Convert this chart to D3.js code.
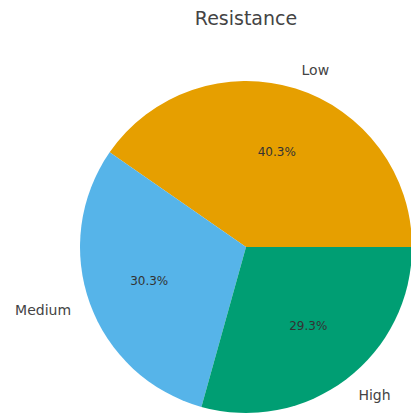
<!DOCTYPE html>
<html>
<head>
<meta charset="utf-8">
<script src="https://cdn.jsdelivr.net/npm/d3@7"></script>
<style>
  html, body { margin: 0; padding: 0; background: #fff; }
  svg { display: block; }
</style>
</head>
<body>
<svg id="chart" width="411" height="415"></svg>
<script>
// Resistance level shares
const categories = ["Low", "Medium", "High"];
const shares = [40.3, 30.3, 29.3];
const colors = ["#E69F00", "#56B4E9", "#009E73"];
const title = "Resistance";

const svg = d3.select("#chart");
const cx = 246, cy = 247, r = 166;
const font = "DejaVu Sans, sans-serif";

const data = categories.map((c, i) => ({ cat: c, value: shares[i], color: colors[i] }));

// Counter-clockwise from 3 o'clock: d3 angles run clockwise from 12 o'clock,
// so the sweep goes from PI/2 down to PI/2 - 2PI.
const pie = d3.pie().value(d => d.value).sort(null)
  .startAngle(Math.PI / 2).endAngle(Math.PI / 2 - 2 * Math.PI);
const arcs = pie(data);
const arc = d3.arc().innerRadius(0).outerRadius(r);

const g = svg.append("g").attr("transform", `translate(${cx},${cy})`);
g.selectAll("path").data(arcs).join("path")
  .attr("d", arc)
  .attr("fill", d => d.data.color);

function pointAt(d, k) {
  const a = (d.startAngle + d.endAngle) / 2; // clockwise from top
  return [k * r * Math.sin(a), -k * r * Math.cos(a)];
}

// category labels outside the pie
g.selectAll("text.lbl").data(arcs).join("text")
  .attr("class", "lbl")
  .attr("x", d => pointAt(d, 1.12)[0])
  .attr("y", d => pointAt(d, 1.12)[1])
  .attr("text-anchor", d => pointAt(d, 1.1)[0] >= 0 ? "start" : "end")
  .attr("dominant-baseline", "central")
  .attr("font-family", font).attr("font-size", 14)
  .attr("fill", "#444")
  .text(d => d.data.cat);

// percentage labels inside
g.selectAll("text.pct").data(arcs).join("text")
  .attr("class", "pct")
  .attr("x", d => pointAt(d, 0.62)[0])
  .attr("y", d => pointAt(d, 0.6)[1])
  .attr("text-anchor", "middle")
  .attr("dominant-baseline", "central")
  .attr("font-family", font).attr("font-size", 12)
  .attr("fill", "#333")
  .text(d => d3.format(".1f")(d.data.value) + "%");

svg.append("text")
  .attr("x", cx).attr("y", 25)
  .attr("text-anchor", "middle")
  .attr("font-family", font).attr("font-size", 19)
  .attr("fill", "#444")
  .text(title);
</script>
</body>
</html>
